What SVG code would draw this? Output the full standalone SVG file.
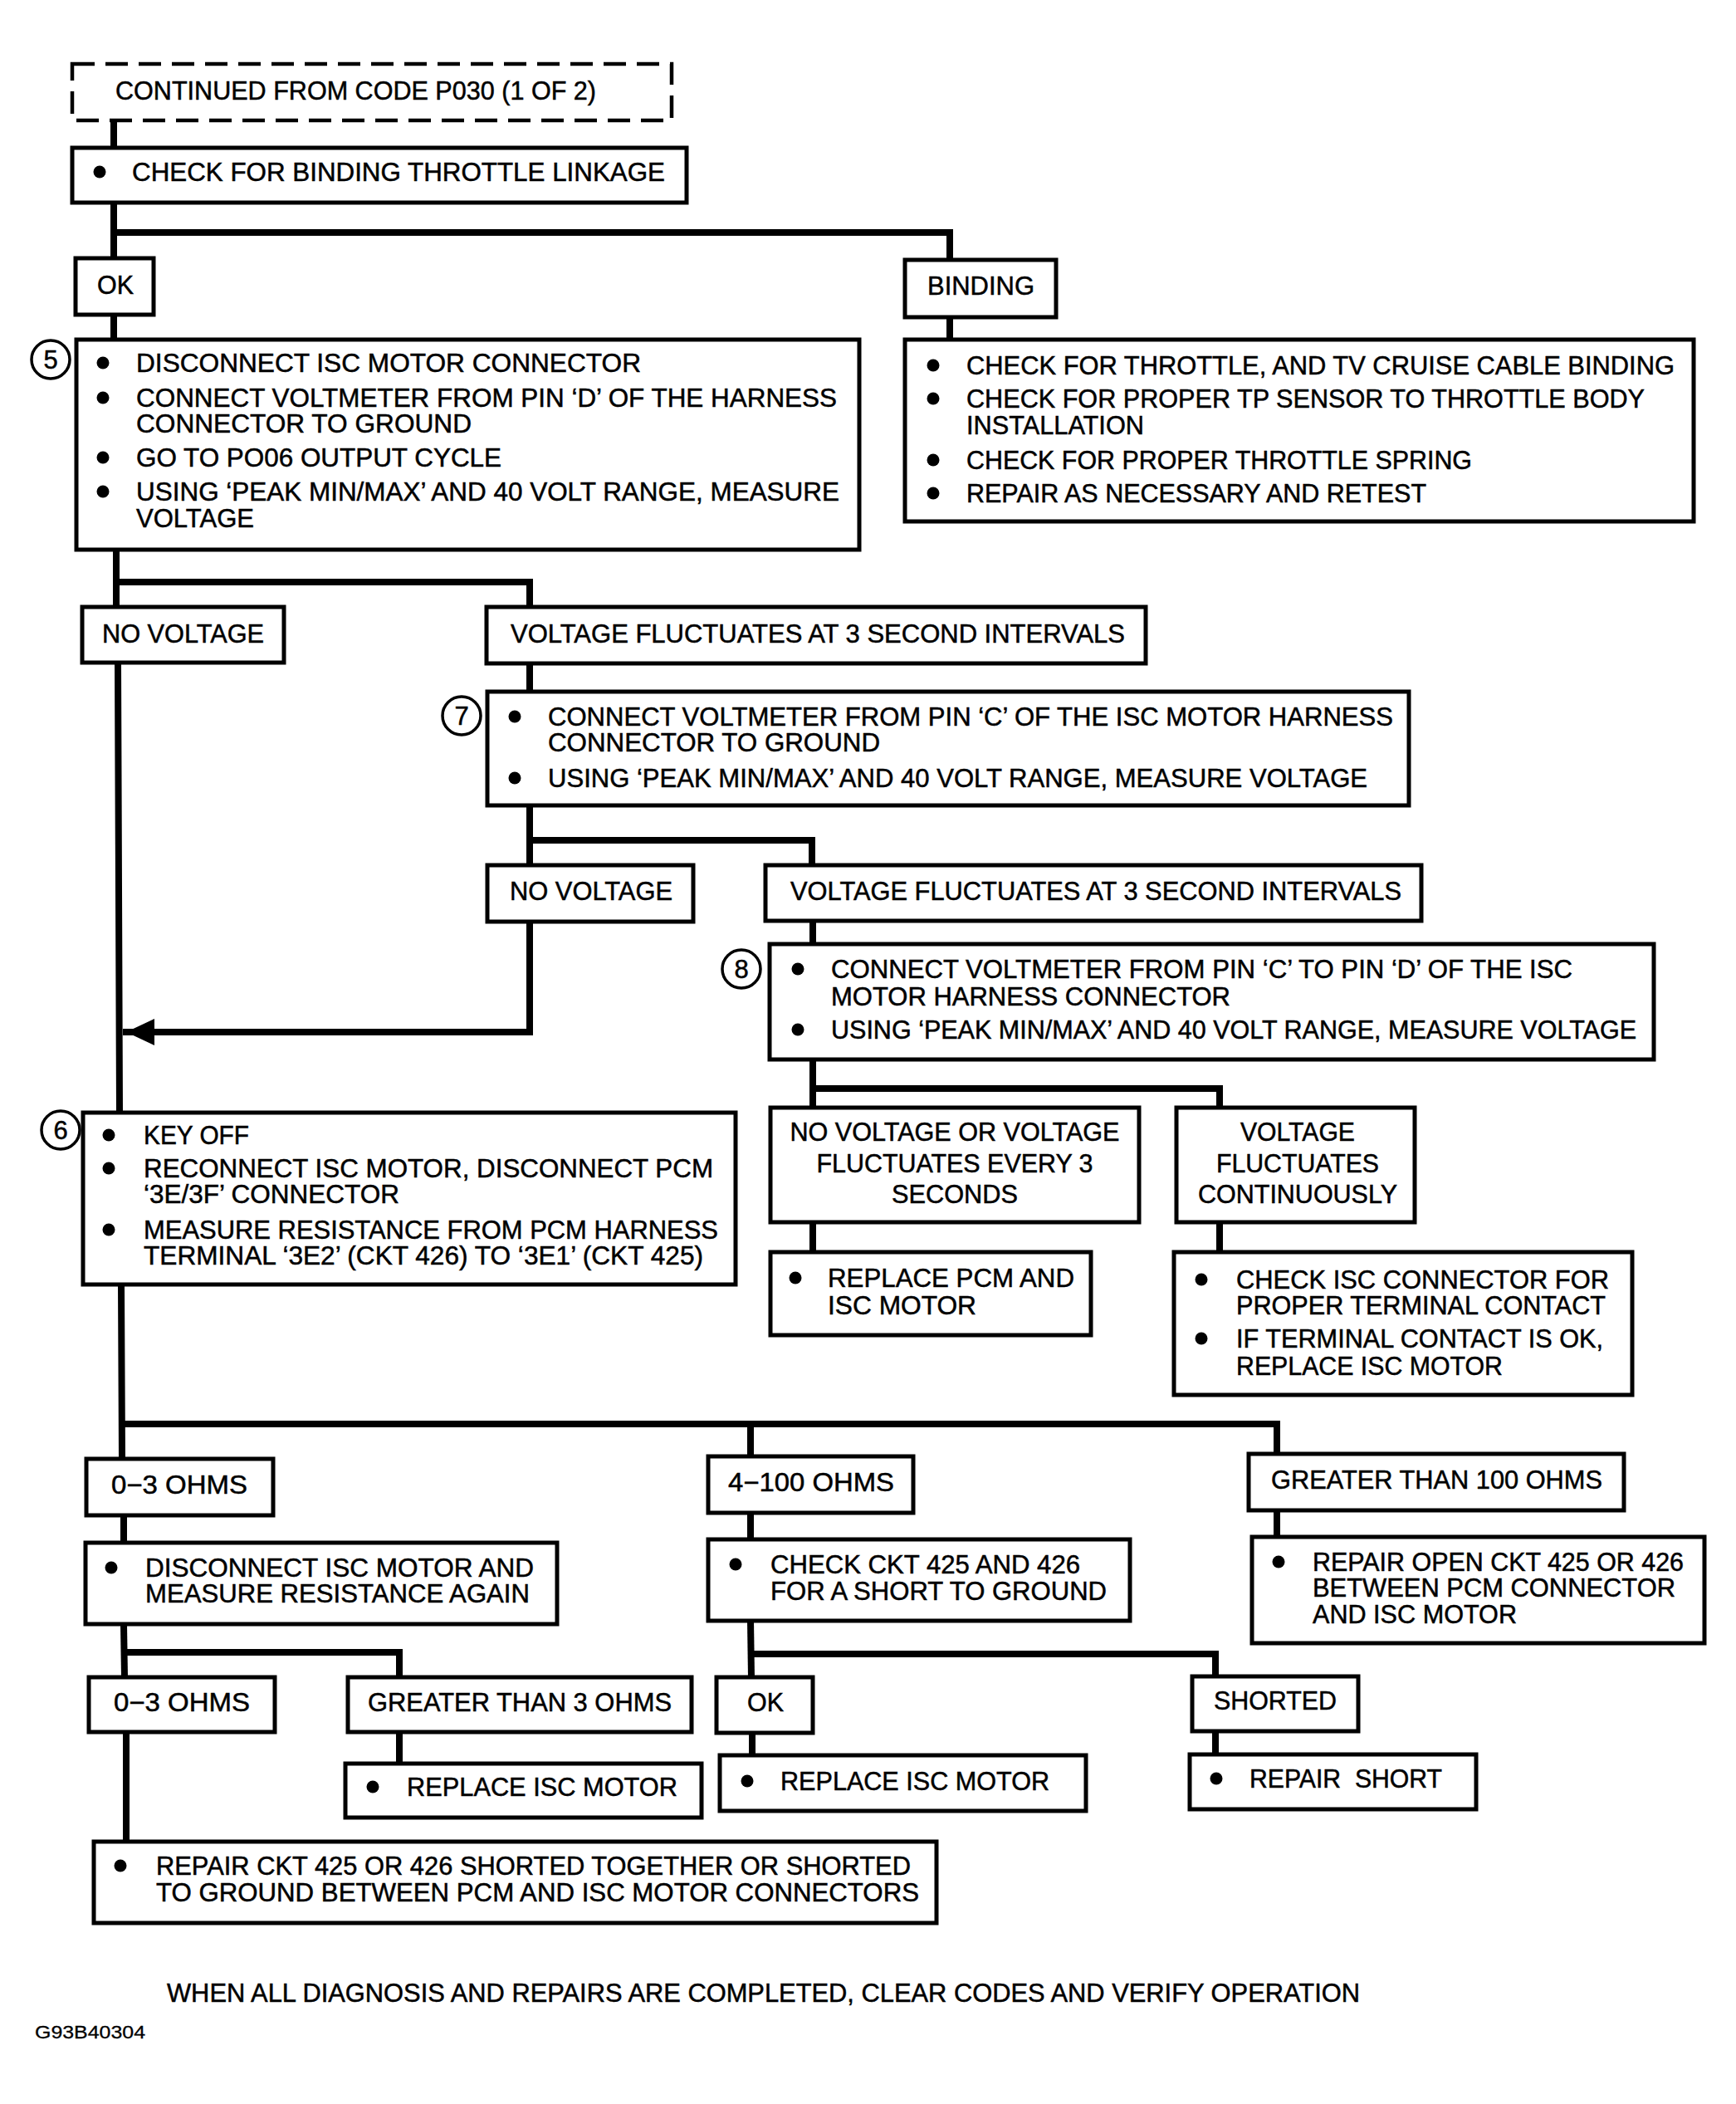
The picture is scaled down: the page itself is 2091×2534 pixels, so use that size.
<svg xmlns="http://www.w3.org/2000/svg" width="2091" height="2534" viewBox="0 0 2091 2534">
<defs>
<style>
.box{fill:#fff;stroke:#000;stroke-width:5}
.dash{fill:#fff;stroke:#000;stroke-width:4.5;stroke-dasharray:27 13}
.conn{fill:none;stroke:#000;stroke-width:8;stroke-linejoin:miter;stroke-linecap:square}
.t{font-family:"Liberation Sans",Arial,sans-serif;font-size:31px;fill:#000;stroke:#000;stroke-width:0.5}
.c{text-anchor:middle}
.b{fill:#000}
.num{fill:#fff;stroke:#000;stroke-width:3.5}
</style>
<marker id="arr" markerUnits="userSpaceOnUse" markerWidth="34" markerHeight="32" refX="34" refY="16" orient="auto">
<path d="M0,0 L34,16 L0,32 z" fill="#000"/>
</marker>
</defs>
<rect width="2091" height="2534" fill="#fff"/>

<g id="connectors">
<polyline class="conn" points="137,145 137,178"/>
<polyline class="conn" points="137,244 137,311"/>
<polyline class="conn" points="137,280 1144,280 1144,313"/>
<polyline class="conn" points="137,379 137,409"/>
<polyline class="conn" points="1144,382 1144,409"/>
<polyline class="conn" points="140,662 140,731"/>
<polyline class="conn" points="140,701 638,701 638,731"/>
<polyline class="conn" points="142,798 144,1340"/>
<polyline class="conn" points="638,799 638,833"/>
<polyline class="conn" points="638,970 638,1042"/>
<polyline class="conn" points="638,1012 978,1012 978,1042"/>
<polyline class="conn" points="638,1110 638,1243 152,1243" marker-end="url(#arr)" stroke-linecap="butt"/>
<polyline class="conn" points="979,1109 979,1137"/>
<polyline class="conn" points="979,1276 979,1334"/>
<polyline class="conn" points="979,1311 1469,1311 1469,1334"/>
<polyline class="conn" points="979,1472 979,1508"/>
<polyline class="conn" points="1469,1472 1469,1508"/>
<polyline class="conn" points="146,1547 147,1757"/>
<polyline class="conn" points="147,1715 1538,1715 1538,1751"/>
<polyline class="conn" points="904,1715 904,1754"/>
<polyline class="conn" points="149,1825 149,1858"/>
<polyline class="conn" points="904,1822 904,1854"/>
<polyline class="conn" points="1538,1819 1538,1851"/>
<polyline class="conn" points="149,1956 150,2020"/>
<polyline class="conn" points="150,1990 481,1990 481,2020"/>
<polyline class="conn" points="904,1952 905,2020"/>
<polyline class="conn" points="905,1992 1464,1992 1464,2019"/>
<polyline class="conn" points="152,2086 152,2218"/>
<polyline class="conn" points="481,2086 481,2124"/>
<polyline class="conn" points="906,2087 906,2114"/>
<polyline class="conn" points="1464,2085 1464,2113"/>
</g>

<g id="n-continued">
<rect class="dash" x="87" y="77" width="722" height="68"/>
<text class="t" x="139" y="120" textLength="579" lengthAdjust="spacingAndGlyphs">CONTINUED FROM CODE P030 (1 OF 2)</text>
</g>

<g id="n-check-binding">
<rect class="box" x="87" y="178" width="740" height="66"/>
<circle class="b" cx="120" cy="207" r="7.5"/>
<text class="t" x="159" y="218" textLength="642" lengthAdjust="spacingAndGlyphs">CHECK FOR BINDING THROTTLE LINKAGE</text>
</g>

<g id="n-ok1">
<rect class="box" x="91" y="311" width="94" height="68"/>
<text class="t" x="117" y="354" textLength="44" lengthAdjust="spacingAndGlyphs">OK</text>
</g>

<g id="n-binding">
<rect class="box" x="1090" y="313" width="182" height="69"/>
<text class="t" x="1117" y="355" textLength="129" lengthAdjust="spacingAndGlyphs">BINDING</text>
</g>

<g id="n-step5">
<rect class="box" x="92" y="409" width="943" height="253"/>
<circle class="num" cx="61" cy="433" r="23"/>
<text class="t c" x="61" y="444">5</text>
<circle class="b" cx="124" cy="437" r="7.5"/>
<text class="t" x="164" y="448" textLength="608" lengthAdjust="spacingAndGlyphs">DISCONNECT ISC MOTOR CONNECTOR</text>
<circle class="b" cx="124" cy="479" r="7.5"/>
<text class="t" x="164" y="490" textLength="844" lengthAdjust="spacingAndGlyphs">CONNECT VOLTMETER FROM PIN ‘D’ OF THE HARNESS</text>
<text class="t" x="164" y="521" textLength="404" lengthAdjust="spacingAndGlyphs">CONNECTOR TO GROUND</text>
<circle class="b" cx="124" cy="551" r="7.5"/>
<text class="t" x="164" y="562" textLength="440" lengthAdjust="spacingAndGlyphs">GO TO PO06 OUTPUT CYCLE</text>
<circle class="b" cx="124" cy="592" r="7.5"/>
<text class="t" x="164" y="603" textLength="847" lengthAdjust="spacingAndGlyphs">USING ‘PEAK MIN/MAX’ AND 40 VOLT RANGE, MEASURE</text>
<text class="t" x="164" y="635" textLength="142" lengthAdjust="spacingAndGlyphs">VOLTAGE</text>
</g>

<g id="n-binding-checks">
<rect class="box" x="1090" y="409" width="950" height="219"/>
<circle class="b" cx="1124" cy="440" r="7.5"/>
<text class="t" x="1164" y="451" textLength="853" lengthAdjust="spacingAndGlyphs">CHECK FOR THROTTLE, AND TV CRUISE CABLE BINDING</text>
<circle class="b" cx="1124" cy="480" r="7.5"/>
<text class="t" x="1164" y="491" textLength="817" lengthAdjust="spacingAndGlyphs">CHECK FOR PROPER TP SENSOR TO THROTTLE BODY</text>
<text class="t" x="1164" y="523" textLength="214" lengthAdjust="spacingAndGlyphs">INSTALLATION</text>
<circle class="b" cx="1124" cy="554" r="7.5"/>
<text class="t" x="1164" y="565" textLength="609" lengthAdjust="spacingAndGlyphs">CHECK FOR PROPER THROTTLE SPRING</text>
<circle class="b" cx="1124" cy="594" r="7.5"/>
<text class="t" x="1164" y="605" textLength="554" lengthAdjust="spacingAndGlyphs">REPAIR AS NECESSARY AND RETEST</text>
</g>

<g id="n-novoltage1">
<rect class="box" x="99" y="731" width="243" height="67"/>
<text class="t" x="123" y="774" textLength="195" lengthAdjust="spacingAndGlyphs">NO VOLTAGE</text>
</g>

<g id="n-vfluct1">
<rect class="box" x="586" y="731" width="794" height="68"/>
<text class="t" x="615" y="774" textLength="740" lengthAdjust="spacingAndGlyphs">VOLTAGE FLUCTUATES AT 3 SECOND INTERVALS</text>
</g>

<g id="n-step7">
<rect class="box" x="587" y="833" width="1110" height="137"/>
<circle class="num" cx="556" cy="862" r="23"/>
<text class="t c" x="556" y="873">7</text>
<circle class="b" cx="620" cy="863" r="7.5"/>
<text class="t" x="660" y="874" textLength="1018" lengthAdjust="spacingAndGlyphs">CONNECT VOLTMETER FROM PIN ‘C’ OF THE ISC MOTOR HARNESS</text>
<text class="t" x="660" y="905" textLength="400" lengthAdjust="spacingAndGlyphs">CONNECTOR TO GROUND</text>
<circle class="b" cx="620" cy="937" r="7.5"/>
<text class="t" x="660" y="948" textLength="987" lengthAdjust="spacingAndGlyphs">USING ‘PEAK MIN/MAX’ AND 40 VOLT RANGE, MEASURE VOLTAGE</text>
</g>

<g id="n-novoltage2">
<rect class="box" x="587" y="1042" width="248" height="68"/>
<text class="t" x="614" y="1084" textLength="196" lengthAdjust="spacingAndGlyphs">NO VOLTAGE</text>
</g>

<g id="n-vfluct2">
<rect class="box" x="922" y="1042" width="790" height="67"/>
<text class="t" x="952" y="1084" textLength="736" lengthAdjust="spacingAndGlyphs">VOLTAGE FLUCTUATES AT 3 SECOND INTERVALS</text>
</g>

<g id="n-step8">
<rect class="box" x="927" y="1137" width="1065" height="139"/>
<circle class="num" cx="893" cy="1167" r="23"/>
<text class="t c" x="893" y="1178">8</text>
<circle class="b" cx="961" cy="1167" r="7.5"/>
<text class="t" x="1001" y="1178" textLength="893" lengthAdjust="spacingAndGlyphs">CONNECT VOLTMETER FROM PIN ‘C’ TO PIN ‘D’ OF THE ISC</text>
<text class="t" x="1001" y="1211" textLength="481" lengthAdjust="spacingAndGlyphs">MOTOR HARNESS CONNECTOR</text>
<circle class="b" cx="961" cy="1240" r="7.5"/>
<text class="t" x="1001" y="1251" textLength="970" lengthAdjust="spacingAndGlyphs">USING ‘PEAK MIN/MAX’ AND 40 VOLT RANGE, MEASURE VOLTAGE</text>
</g>

<g id="n-novoltage-or">
<rect class="box" x="928" y="1334" width="444" height="138"/>
<text class="t c" x="1150" y="1374" textLength="397" lengthAdjust="spacingAndGlyphs">NO VOLTAGE OR VOLTAGE</text>
<text class="t c" x="1150" y="1412" textLength="333" lengthAdjust="spacingAndGlyphs">FLUCTUATES EVERY 3</text>
<text class="t c" x="1150" y="1449" textLength="152" lengthAdjust="spacingAndGlyphs">SECONDS</text>
</g>

<g id="n-vfluct-cont">
<rect class="box" x="1417" y="1334" width="287" height="138"/>
<text class="t c" x="1563" y="1374" textLength="138" lengthAdjust="spacingAndGlyphs">VOLTAGE</text>
<text class="t c" x="1563" y="1412" textLength="196" lengthAdjust="spacingAndGlyphs">FLUCTUATES</text>
<text class="t c" x="1563" y="1449" textLength="240" lengthAdjust="spacingAndGlyphs">CONTINUOUSLY</text>
</g>

<g id="n-replace-pcm">
<rect class="box" x="928" y="1508" width="386" height="100"/>
<circle class="b" cx="958" cy="1539" r="7.5"/>
<text class="t" x="997" y="1550" textLength="297" lengthAdjust="spacingAndGlyphs">REPLACE PCM AND</text>
<text class="t" x="997" y="1583" textLength="179" lengthAdjust="spacingAndGlyphs">ISC MOTOR</text>
</g>

<g id="n-check-isc">
<rect class="box" x="1414" y="1508" width="552" height="172"/>
<circle class="b" cx="1447" cy="1541" r="7.5"/>
<text class="t" x="1489" y="1552" textLength="449" lengthAdjust="spacingAndGlyphs">CHECK ISC CONNECTOR FOR</text>
<text class="t" x="1489" y="1583" textLength="445" lengthAdjust="spacingAndGlyphs">PROPER TERMINAL CONTACT</text>
<circle class="b" cx="1447" cy="1612" r="7.5"/>
<text class="t" x="1489" y="1623" textLength="442" lengthAdjust="spacingAndGlyphs">IF TERMINAL CONTACT IS OK,</text>
<text class="t" x="1489" y="1656" textLength="321" lengthAdjust="spacingAndGlyphs">REPLACE ISC MOTOR</text>
</g>

<g id="n-step6">
<rect class="box" x="100" y="1340" width="786" height="207"/>
<circle class="num" cx="73" cy="1361" r="23"/>
<text class="t c" x="73" y="1372">6</text>
<circle class="b" cx="131" cy="1367" r="7.5"/>
<text class="t" x="173" y="1378" textLength="127" lengthAdjust="spacingAndGlyphs">KEY OFF</text>
<circle class="b" cx="131" cy="1407" r="7.5"/>
<text class="t" x="173" y="1418" textLength="686" lengthAdjust="spacingAndGlyphs">RECONNECT ISC MOTOR, DISCONNECT PCM</text>
<text class="t" x="173" y="1449" textLength="308" lengthAdjust="spacingAndGlyphs">‘3E/3F’ CONNECTOR</text>
<circle class="b" cx="131" cy="1481" r="7.5"/>
<text class="t" x="173" y="1492" textLength="692" lengthAdjust="spacingAndGlyphs">MEASURE RESISTANCE FROM PCM HARNESS</text>
<text class="t" x="173" y="1523" textLength="674" lengthAdjust="spacingAndGlyphs">TERMINAL ‘3E2’ (CKT 426) TO ‘3E1’ (CKT 425)</text>
</g>

<g id="n-ohms-0-3">
<rect class="box" x="104" y="1757" width="225" height="68"/>
<text class="t" x="134" y="1799" textLength="164" lengthAdjust="spacingAndGlyphs">0−3 OHMS</text>
</g>

<g id="n-ohms-4-100">
<rect class="box" x="853" y="1754" width="247" height="68"/>
<text class="t" x="877" y="1796" textLength="200" lengthAdjust="spacingAndGlyphs">4−100 OHMS</text>
</g>

<g id="n-ohms-gt100">
<rect class="box" x="1504" y="1751" width="452" height="68"/>
<text class="t" x="1531" y="1793" textLength="399" lengthAdjust="spacingAndGlyphs">GREATER THAN 100 OHMS</text>
</g>

<g id="n-disconnect-isc">
<rect class="box" x="103" y="1858" width="568" height="98"/>
<circle class="b" cx="134" cy="1888" r="7.5"/>
<text class="t" x="175" y="1899" textLength="468" lengthAdjust="spacingAndGlyphs">DISCONNECT ISC MOTOR AND</text>
<text class="t" x="175" y="1930" textLength="463" lengthAdjust="spacingAndGlyphs">MEASURE RESISTANCE AGAIN</text>
</g>

<g id="n-check-ckt">
<rect class="box" x="853" y="1854" width="508" height="98"/>
<circle class="b" cx="886" cy="1884" r="7.5"/>
<text class="t" x="928" y="1895" textLength="373" lengthAdjust="spacingAndGlyphs">CHECK CKT 425 AND 426</text>
<text class="t" x="928" y="1927" textLength="405" lengthAdjust="spacingAndGlyphs">FOR A SHORT TO GROUND</text>
</g>

<g id="n-repair-open">
<rect class="box" x="1508" y="1851" width="545" height="128"/>
<circle class="b" cx="1540" cy="1881" r="7.5"/>
<text class="t" x="1581" y="1892" textLength="447" lengthAdjust="spacingAndGlyphs">REPAIR OPEN CKT 425 OR 426</text>
<text class="t" x="1581" y="1923" textLength="437" lengthAdjust="spacingAndGlyphs">BETWEEN PCM CONNECTOR</text>
<text class="t" x="1581" y="1955" textLength="246" lengthAdjust="spacingAndGlyphs">AND ISC MOTOR</text>
</g>

<g id="n-ohms-0-3-b">
<rect class="box" x="107" y="2020" width="224" height="66"/>
<text class="t" x="137" y="2061" textLength="164" lengthAdjust="spacingAndGlyphs">0−3 OHMS</text>
</g>

<g id="n-ohms-gt3">
<rect class="box" x="419" y="2020" width="414" height="66"/>
<text class="t" x="443" y="2061" textLength="366" lengthAdjust="spacingAndGlyphs">GREATER THAN 3 OHMS</text>
</g>

<g id="n-ok2">
<rect class="box" x="863" y="2020" width="116" height="67"/>
<text class="t" x="900" y="2061" textLength="44" lengthAdjust="spacingAndGlyphs">OK</text>
</g>

<g id="n-shorted">
<rect class="box" x="1436" y="2019" width="200" height="66"/>
<text class="t" x="1462" y="2059" textLength="148" lengthAdjust="spacingAndGlyphs">SHORTED</text>
</g>

<g id="n-replace-isc1">
<rect class="box" x="416" y="2124" width="429" height="65"/>
<circle class="b" cx="449" cy="2152" r="7.5"/>
<text class="t" x="490" y="2163" textLength="326" lengthAdjust="spacingAndGlyphs">REPLACE ISC MOTOR</text>
</g>

<g id="n-replace-isc2">
<rect class="box" x="867" y="2114" width="441" height="67"/>
<circle class="b" cx="900" cy="2145" r="7.5"/>
<text class="t" x="940" y="2156" textLength="324" lengthAdjust="spacingAndGlyphs">REPLACE ISC MOTOR</text>
</g>

<g id="n-repair-short">
<rect class="box" x="1433" y="2113" width="345" height="66"/>
<circle class="b" cx="1465" cy="2142" r="7.5"/>
<text class="t" x="1505" y="2153" textLength="232" lengthAdjust="spacingAndGlyphs" xml:space="preserve">REPAIR  SHORT</text>
</g>

<g id="n-repair-ckt">
<rect class="box" x="113" y="2218" width="1015" height="98"/>
<circle class="b" cx="145" cy="2247" r="7.5"/>
<text class="t" x="188" y="2258" textLength="909" lengthAdjust="spacingAndGlyphs">REPAIR CKT 425 OR 426 SHORTED TOGETHER OR SHORTED</text>
<text class="t" x="188" y="2290" textLength="919" lengthAdjust="spacingAndGlyphs">TO GROUND BETWEEN PCM AND ISC MOTOR CONNECTORS</text>
</g>

<g id="footer">
<text class="t" x="201" y="2411" textLength="1437" lengthAdjust="spacingAndGlyphs">WHEN ALL DIAGNOSIS AND REPAIRS ARE COMPLETED, CLEAR CODES AND VERIFY OPERATION</text>
<text class="t" x="42" y="2455" style="font-size:22px;stroke-width:0.3" textLength="133" lengthAdjust="spacingAndGlyphs">G93B40304</text>
</g>
</svg>
